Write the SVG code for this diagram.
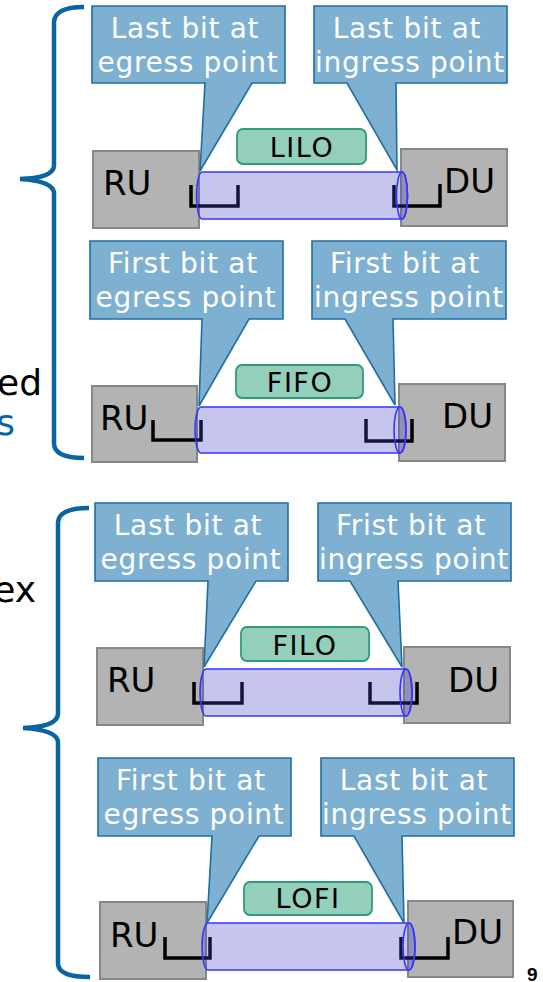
<svg xmlns="http://www.w3.org/2000/svg" width="543" height="982" viewBox="0 0 543 982">
<style>
  text { font-family: "DejaVu Sans", Verdana, sans-serif; }
  .brace { fill: none; stroke: #0a64a0; stroke-width: 4.5; stroke-linecap: butt; }
  .callout { fill: #7eb0d2; stroke: #1f6ea3; stroke-width: 1.6; }
  .ct { fill: #ffffff; font-size: 28px; text-anchor: middle; letter-spacing: 0.7px; }
  .box { fill: #b3b3b3; stroke: #878787; stroke-width: 2; }
  .bt { fill: #000; font-size: 34px; }
  .u { fill: none; stroke: #000; stroke-width: 3.5; stroke-linejoin: miter; }
  .tube { fill: #3e3ec6; fill-opacity: 0.3; stroke: #3636ff; stroke-width: 1.6; }
  .tubeend { fill: none; stroke: #3636ff; stroke-width: 1.6; }
  .lbl { fill: #93cfbb; stroke: #2f9c78; stroke-width: 1.8; }
  .lt { fill: #000; font-size: 27px; text-anchor: middle; letter-spacing: 1.5px; }
  .side { font-size: 36px; text-anchor: end; }
</style>

<g id="side-text">
  <text class="side" x="42" y="395" fill="#000">ed</text>
  <text class="side" x="15" y="435" fill="#0a64a0">s</text>
  <text class="side" x="36" y="602" fill="#000">ex</text>
</g>

<g id="braces">
  <path class="brace" d="M84,7 Q55,7 54,22 V166 Q53,178 20,179 Q53,181 54,193 V444 Q55,458 84,458"/>
  <path class="brace" d="M89,508 Q59,508 58,522 V714 Q57,727 23,728 Q57,730 58,742 V964 Q59,977 90,977"/>
</g>

<!-- Panel 1: LILO -->
<g id="p1-ru"><rect class="box" x="93" y="151" width="106" height="77"/><text class="bt" x="103" y="195">RU</text></g>
<g id="p1-du"><rect class="box" x="401" y="149" width="106" height="77"/><text class="bt" x="444" y="193">DU</text></g>
<g id="p1-marks"><path class="u" d="M191,185 V206 H238 V185"/><path class="u" d="M394,185 V206 H440 V184"/></g>
<g id="p1-callout-egress">
  <path class="callout" d="M92,6 H285 V83 H252 L200,171 L205,83 H92 Z"/>
  <text class="ct" x="185" y="38">Last bit at</text>
  <text class="ct" x="188" y="72">egress point</text>
</g>
<g id="p1-callout-ingress">
  <path class="callout" d="M314,6 H507 V83 H396 L397,170 L347,83 H314 Z"/>
  <text class="ct" x="407" y="38">Last bit at</text>
  <text class="ct" x="410" y="72">ingress point</text>
</g>
<g id="p1-label"><rect class="lbl" x="237" y="129" width="129" height="35" rx="6"/><text class="lt" x="302" y="157">LILO</text></g>

<!-- Panel 2: FIFO -->
<g id="p2-ru"><rect class="box" x="92" y="386" width="105" height="76"/><text class="bt" x="100" y="430">RU</text></g>
<g id="p2-du"><rect class="box" x="399" y="384" width="106" height="77"/><text class="bt" x="442" y="428">DU</text></g>
<g id="p2-marks"><path class="u" d="M153,420 V440 H201 V420"/><path class="u" d="M366,419 V441 H412 V419"/></g>
<g id="p2-callout-egress">
  <path class="callout" d="M90,241 H283 V319 H249 L199,406 L202,319 H90 Z"/>
  <text class="ct" x="183" y="273">First bit at</text>
  <text class="ct" x="186" y="307">egress point</text>
</g>
<g id="p2-callout-ingress">
  <path class="callout" d="M312,241 H506 V319 H393 L395,405 L345,319 H312 Z"/>
  <text class="ct" x="405" y="273">First bit at</text>
  <text class="ct" x="409" y="307">ingress point</text>
</g>
<g id="p2-label"><rect class="lbl" x="236" y="365" width="127" height="33" rx="6"/><text class="lt" x="300" y="392">FIFO</text></g>

<!-- Panel 3: FILO -->
<g id="p3-ru"><rect class="box" x="97" y="648" width="106" height="77"/><text class="bt" x="107" y="692">RU</text></g>
<g id="p3-du"><rect class="box" x="404" y="647" width="106" height="76"/><text class="bt" x="448" y="692">DU</text></g>
<g id="p3-marks"><path class="u" d="M194,682 V703 H242 V682"/><path class="u" d="M370,682 V703 H417 V682"/></g>
<g id="p3-callout-egress">
  <path class="callout" d="M95,503 H288 V581 H256 L204,667 L208,581 H95 Z"/>
  <text class="ct" x="188" y="535">Last bit at</text>
  <text class="ct" x="191" y="569">egress point</text>
</g>
<g id="p3-callout-ingress">
  <path class="callout" d="M318,503 H511 V581 H398 L402,667 L350,581 H318 Z"/>
  <text class="ct" x="411" y="535">Frist bit at</text>
  <text class="ct" x="414" y="569">ingress point</text>
</g>
<g id="p3-label"><rect class="lbl" x="241" y="627" width="128" height="34" rx="6"/><text class="lt" x="305" y="655">FILO</text></g>

<!-- Panel 4: LOFI -->
<g id="p4-ru"><rect class="box" x="100" y="902" width="106" height="77"/><text class="bt" x="110" y="947">RU</text></g>
<g id="p4-du"><rect class="box" x="408" y="901" width="105" height="76"/><text class="bt" x="452" y="944">DU</text></g>
<g id="p4-marks"><path class="u" d="M165,937 V958 H210 V937"/><path class="u" d="M401,937 V958 H448 V937"/></g>
<g id="p4-callout-egress">
  <path class="callout" d="M98,758 H291 V836 H259 L207,923 L212,836 H98 Z"/>
  <text class="ct" x="191" y="790">First bit at</text>
  <text class="ct" x="194" y="824">egress point</text>
</g>
<g id="p4-callout-ingress">
  <path class="callout" d="M321,758 H514 V836 H402 L404,923 L354,836 H321 Z"/>
  <text class="ct" x="414" y="790">Last bit at</text>
  <text class="ct" x="417" y="824">ingress point</text>
</g>
<g id="p4-label"><rect class="lbl" x="244" y="882" width="128" height="33" rx="6"/><text class="lt" x="308" y="908">LOFI</text></g>

<g id="connectors">
  <path class="tube" d="M202,172 H402 A5.5,23.5 0 0 1 402,219 H202 A5.5,23.5 0 0 1 202,172 Z"/>
  <ellipse class="tubeend" cx="402" cy="195.5" rx="5.5" ry="23.5"/>
  <path class="tube" d="M201,407 H400 A6,23 0 0 1 400,453 H201 A6,23 0 0 1 201,407 Z"/>
  <ellipse class="tubeend" cx="400" cy="430" rx="6" ry="23"/>
  <path class="tube" d="M206,669 H406 A6,23.5 0 0 1 406,716 H206 A6,23.5 0 0 1 206,669 Z"/>
  <ellipse class="tubeend" cx="406" cy="692.5" rx="6" ry="23.5"/>
  <path class="tube" d="M208,923 H409 A6,23.5 0 0 1 409,970 H208 A6,23.5 0 0 1 208,923 Z"/>
  <ellipse class="tubeend" cx="409" cy="946.5" rx="6" ry="23.5"/>
</g>

<text x="527" y="981" style="font-family: 'Liberation Sans', Arial, sans-serif; font-weight: bold; font-size: 19px;">9</text>
</svg>
